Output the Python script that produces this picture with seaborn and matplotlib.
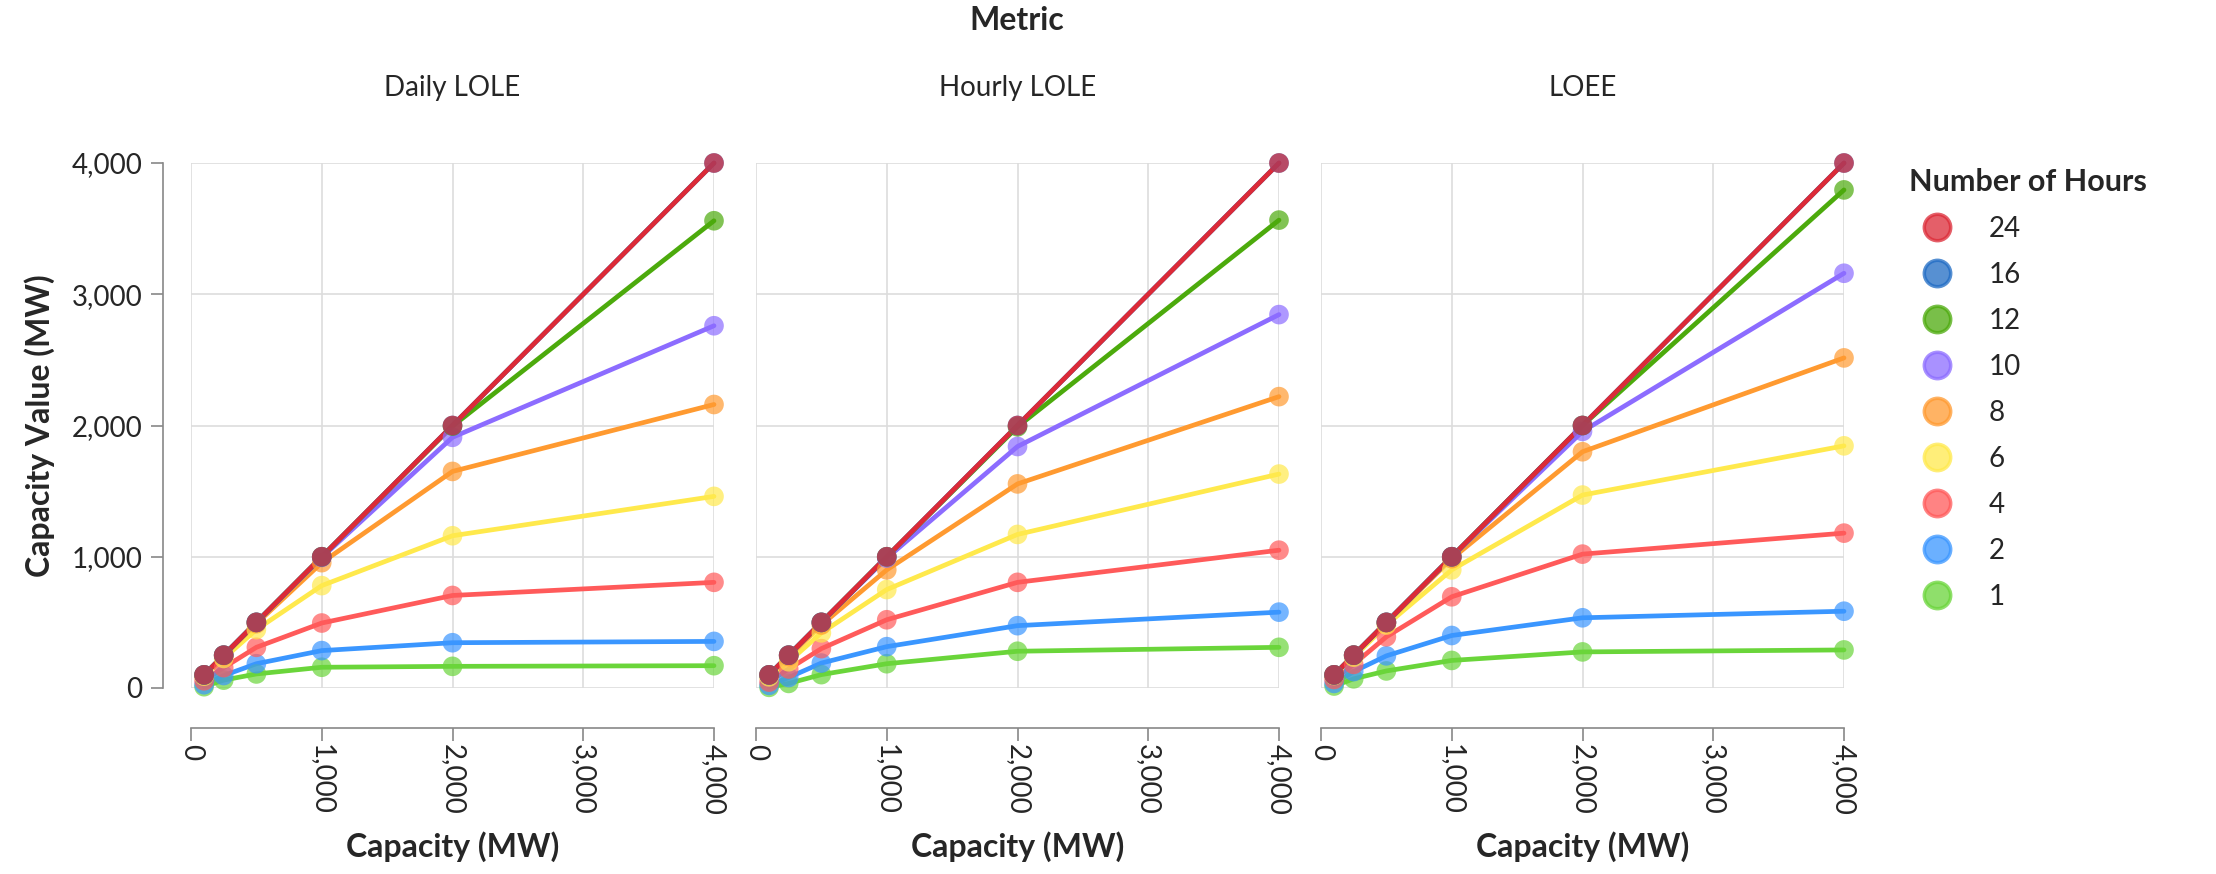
import pandas as pd
import matplotlib.pyplot as plt
import seaborn as sns
from matplotlib.lines import Line2D
from matplotlib.ticker import FuncFormatter

# capacity steps (MW) shared by every series
capacity = [100, 250, 500, 1000, 2000, 4000]
hours = [24, 16, 12, 10, 8, 6, 4, 2, 1]
metrics = ['Daily LOLE', 'Hourly LOLE', 'LOEE']

# capacity value (MW), one list per number of hours
daily_lole = {
    24: [100, 250, 500, 1000, 2000, 4000],
    16: [100, 250, 500, 1000, 2000, 4000],
    12: [100, 250, 500, 1000, 1995, 3560],
    10: [100, 250, 500, 995, 1910, 2760],
    8: [98, 245, 490, 955, 1650, 2160],
    6: [90, 225, 445, 780, 1160, 1460],
    4: [55, 155, 310, 495, 705, 805],
    2: [25, 95, 185, 285, 345, 355],
    1: [10, 60, 107, 158, 165, 170],
}
hourly_lole = {
    24: [100, 250, 500, 1000, 2000, 4000],
    16: [100, 250, 500, 1000, 2000, 4000],
    12: [100, 250, 500, 1000, 1990, 3565],
    10: [100, 250, 500, 990, 1840, 2845],
    8: [98, 240, 480, 900, 1555, 2220],
    6: [85, 200, 420, 750, 1170, 1630],
    4: [45, 145, 300, 520, 805, 1050],
    2: [20, 80, 190, 315, 475, 578],
    1: [5, 35, 102, 185, 280, 310],
}
loee = {
    24: [100, 250, 500, 1000, 2000, 4000],
    16: [100, 250, 500, 1000, 2000, 4000],
    12: [100, 250, 500, 1000, 2000, 3795],
    10: [100, 250, 500, 1000, 1955, 3160],
    8: [100, 250, 495, 985, 1800, 2515],
    6: [95, 235, 480, 900, 1470, 1845],
    4: [65, 180, 390, 695, 1020, 1180],
    2: [35, 125, 245, 400, 535, 585],
    1: [15, 70, 130, 210, 275, 290],
}

colors = {
    24: '#dc2a37', 16: '#1f6bc4', 12: '#4caa0c', 10: '#8c6cff', 8: '#ff9a30',
    6: '#ffe94c', 4: '#ff5a5a', 2: '#3a96ff', 1: '#6ad53a',
}

rows = []
for metric, table in zip(metrics, [daily_lole, hourly_lole, loee]):
    for h in hours:
        for c, v in zip(capacity, table[h]):
            rows.append({'Metric': metric, 'Hours': h, 'Capacity': c, 'Value': v})
df = pd.DataFrame(rows)

sns.set_style('white')
plt.rcParams['font.family'] = ['Lato', 'DejaVu Sans']

W, H = 2216, 874
fig = plt.figure(figsize=(W / 100, H / 100), dpi=100)

lefts = [191, 756, 1321]
draw_order = sorted(hours)  # 24 ends up on top
fmt = FuncFormatter(lambda v, p: f'{int(v):,}')
axes = []
for i, (metric, left) in enumerate(zip(metrics, lefts)):
    ax = fig.add_axes([left / W, (H - 688) / H, 523 / W, 525 / H])
    axes.append(ax)
    sub = df[df['Metric'] == metric]
    sns.lineplot(data=sub, x='Capacity', y='Value', hue='Hours', hue_order=draw_order,
                 palette=colors, linewidth=3.4, legend=False, ax=ax, clip_on=False)
    pts = sub.assign(o=sub['Hours'].map({h: k for k, h in enumerate(draw_order)})).sort_values('o')
    sns.scatterplot(data=pts, x='Capacity', y='Value', hue='Hours', palette=colors,
                    s=200, alpha=0.7, linewidth=0, legend=False, ax=ax, clip_on=False, zorder=5)

    ax.set_xlim(0, 4000)
    ax.set_ylim(0, 4000)
    ax.set_xticks([0, 1000, 2000, 3000, 4000])
    ax.set_yticks([0, 1000, 2000, 3000, 4000])
    ax.grid(True, color='#dddddd', linewidth=1.2)
    ax.set_axisbelow(True)
    for s in ['top', 'right']:
        ax.spines[s].set_visible(False)
    ax.spines['bottom'].set_position(('outward', 29))
    ax.spines['bottom'].set_color('#888888')
    ax.spines['bottom'].set_linewidth(1.2)
    ax.xaxis.set_major_formatter(fmt)
    ax.tick_params(axis='x', length=9, width=1.2, color='#888888', pad=2,
                   labelsize=20, labelrotation=-90, bottom=True)
    ax.set_xlabel('Capacity (MW)', fontsize=23, fontweight='bold', labelpad=12)
    ax.set_title(metric, fontsize=20, pad=48)
    if i == 0:
        ax.spines['left'].set_position(('outward', 20))
        ax.spines['left'].set_color('#888888')
        ax.spines['left'].set_linewidth(1.2)
        ax.yaxis.set_major_formatter(fmt)
        ax.tick_params(axis='y', length=9, width=1.2, color='#888888', pad=6,
                       labelsize=20, left=True)
        ax.set_ylabel('Capacity Value (MW)', fontsize=23, fontweight='bold', labelpad=12)
    else:
        ax.spines['left'].set_visible(False)
        ax.tick_params(axis='y', left=False, labelleft=False)
        ax.set_ylabel('')

fig.text(1017 / W, 1 - 21 / H, 'Metric', ha='center', va='center',
         fontsize=23, fontweight='bold')

handles = [Line2D([], [], linestyle='none', marker='o', markersize=19,
                  markerfacecolor=colors[h], markeredgecolor=colors[h],
                  markeredgewidth=2.5, alpha=0.75) for h in hours]
leg = fig.legend(handles, [str(h) for h in hours], title='Number of Hours',
                 loc='upper left', bbox_to_anchor=(1898 / W, 1 - 157 / H),
                 frameon=False, fontsize=20, title_fontproperties={'size': 22, 'weight': 'bold'},
                 labelspacing=0.72, handletextpad=0.85, borderaxespad=0)
leg._legend_box.align = 'left'

plt.savefig('out.png', dpi=100)
